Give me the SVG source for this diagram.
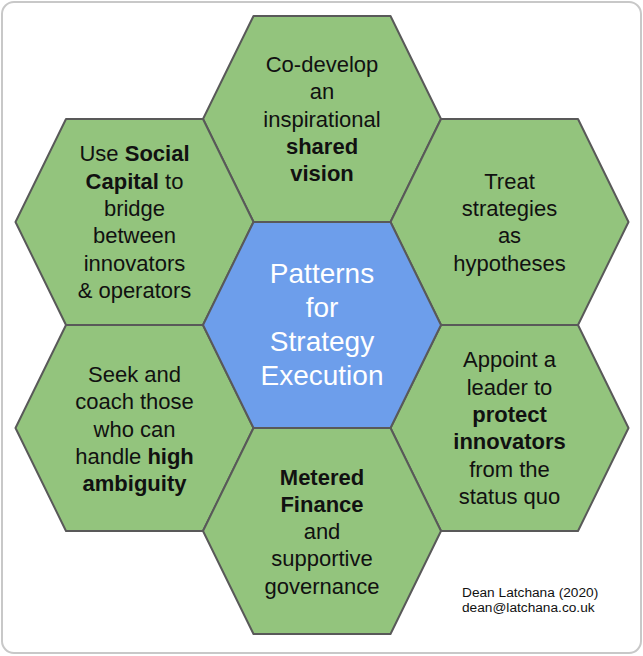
<svg xmlns="http://www.w3.org/2000/svg" width="643" height="656" viewBox="0 0 643 656">
<style>
.hex{stroke:#595959;stroke-width:2;stroke-linejoin:round}
.g{fill:#93c47d}
.b{fill:#6d9eeb}
.t{font-family:"Liberation Sans",Arial,sans-serif;font-size:22px;fill:#111;text-anchor:middle}
.c{font-family:"Liberation Sans",Arial,sans-serif;font-size:28px;fill:#ffffff;text-anchor:middle}
.bold{font-weight:bold}
.f{font-family:"Liberation Sans",Arial,sans-serif;font-size:13.7px;fill:#111}
</style>
<defs>
<polygon id="hx" points="-119,0 -68.5,-103 68.5,-103 119,0 68.5,103 -68.5,103"/>
</defs>
<rect x="0" y="0" width="643" height="656" fill="#ffffff"/>
<rect x="2" y="2" width="639" height="651" rx="12" ry="12" fill="#ffffff" stroke="#c8c8c8" stroke-width="2"/>
<g id="connectors"></g>
<g id="node-top">
<use href="#hx" class="hex g" transform="translate(322,119)"/>
<text class="t"><tspan x="322" y="71.9">Co-develop</tspan><tspan x="322" y="99.2">an</tspan><tspan x="322" y="126.5">inspirational</tspan><tspan x="322" y="153.8" class="bold">shared</tspan><tspan x="322" y="181.1" class="bold">vision</tspan></text>
</g>
<g id="node-upper-left">
<use href="#hx" class="hex g" transform="translate(134.5,222)"/>
<text class="t"><tspan x="134.5" y="161.3">Use <tspan class="bold">Social</tspan></tspan><tspan x="134.5" y="188.6"><tspan class="bold">Capital</tspan> to</tspan><tspan x="134.5" y="215.9">bridge</tspan><tspan x="134.5" y="243.2">between</tspan><tspan x="134.5" y="270.5">innovators</tspan><tspan x="134.5" y="297.8">&amp; operators</tspan></text>
</g>
<g id="node-upper-right">
<use href="#hx" class="hex g" transform="translate(509.5,222)"/>
<text class="t"><tspan x="509.5" y="188.6">Treat</tspan><tspan x="509.5" y="215.9">strategies</tspan><tspan x="509.5" y="243.2">as</tspan><tspan x="509.5" y="270.5">hypotheses</tspan></text>
</g>
<g id="node-lower-left">
<use href="#hx" class="hex g" transform="translate(134.5,428)"/>
<text class="t"><tspan x="134.5" y="382">Seek and</tspan><tspan x="134.5" y="409.3">coach those</tspan><tspan x="134.5" y="436.6">who can</tspan><tspan x="134.5" y="463.9">handle <tspan class="bold">high</tspan></tspan><tspan x="134.5" y="491.2" class="bold">ambiguity</tspan></text>
</g>
<g id="node-lower-right">
<use href="#hx" class="hex g" transform="translate(509.5,428)"/>
<text class="t"><tspan x="509.5" y="367.3">Appoint a</tspan><tspan x="509.5" y="394.6">leader to</tspan><tspan x="509.5" y="421.9" class="bold">protect</tspan><tspan x="509.5" y="449.2" class="bold">innovators</tspan><tspan x="509.5" y="476.5">from the</tspan><tspan x="509.5" y="503.8">status quo</tspan></text>
</g>
<g id="node-bottom">
<use href="#hx" class="hex g" transform="translate(322,531)"/>
<text class="t"><tspan x="322" y="484.5" class="bold">Metered</tspan><tspan x="322" y="511.8" class="bold">Finance</tspan><tspan x="322" y="539.1">and</tspan><tspan x="322" y="566.4">supportive</tspan><tspan x="322" y="593.7">governance</tspan></text>
</g>
<g id="node-center">
<use href="#hx" class="hex b" transform="translate(322,325)"/>
<text class="c"><tspan x="322" y="283">Patterns</tspan><tspan x="322" y="317">for</tspan><tspan x="322" y="351">Strategy</tspan><tspan x="322" y="385">Execution</tspan></text>
</g>
<g id="credit">
<text class="f"><tspan x="462" y="596.7">Dean Latchana (2020)</tspan><tspan x="462" y="612">dean@latchana.co.uk</tspan></text>
</g>
</svg>
